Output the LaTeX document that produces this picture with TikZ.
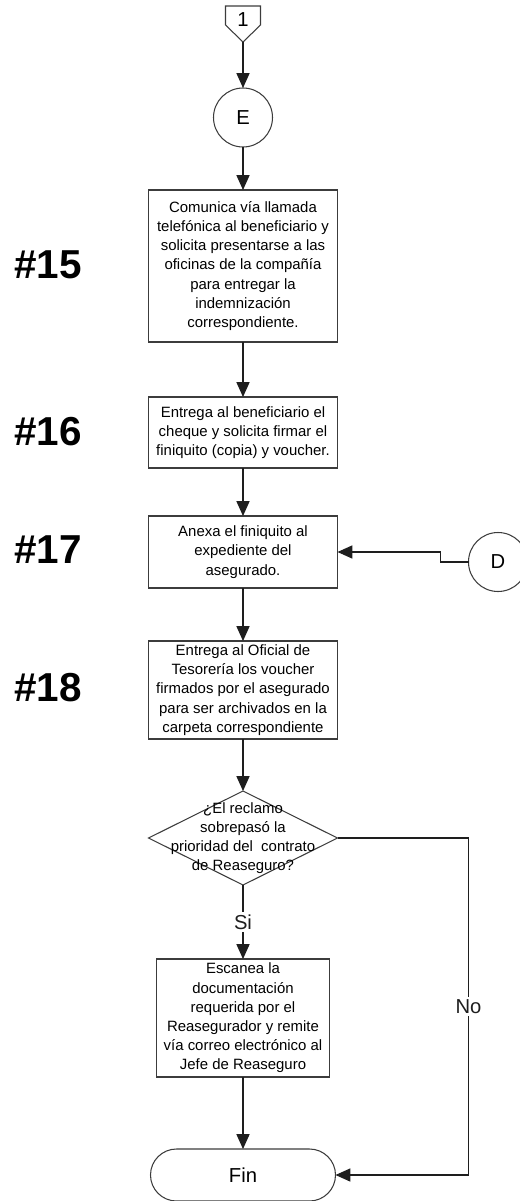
\documentclass[tikz,border=0pt]{standalone}
\usepackage{fontspec}
\setmainfont{Liberation Sans}
\usepackage{tikz}
\usetikzlibrary{shapes.geometric, arrows.meta, positioning}
\definecolor{mydark}{RGB}{30,30,30}
\definecolor{myframe}{RGB}{60,60,60}
\tikzset{
  block/.style={rectangle, draw=myframe, fill=white, align=center,
    minimum width=3.78cm, inner sep=1pt, line width=0.6pt,
    font=\fontsize{8.5}{10.9}\selectfont},
  conn/.style={circle, draw=myframe, minimum size=1.18cm, inner sep=0pt,
    line width=0.6pt, font=\fontsize{11.5}{13}\selectfont},
  arrow/.style={-{Triangle[length=8.5pt, width=7.5pt]}, line width=0.6pt, color=mydark},
  line/.style={line width=0.6pt, color=mydark},
  steplbl/.style={font=\fontsize{23}{26}\selectfont\bfseries},
  answer/.style={fill=white, inner sep=1.5pt, font=\fontsize{11.5}{13}\selectfont}
}

\begin{document}
\begin{tikzpicture}[every node/.append style={outer sep=0pt}]
  \useasboundingbox (0,0) rectangle (10.38,-24.02);

  % Off-page connector
  \node[font=\fontsize{11.5}{13}\selectfont] (p1) at (4.86,-0.39) {1};
  \draw[line, draw=myframe] (4.51,-0.12) -- (5.21,-0.12) -- (5.21,-0.5)
    -- (4.86,-0.84) -- (4.51,-0.5) -- cycle;
  \coordinate (p1tip) at (4.86,-0.84);

  % Main column
  \node[conn, below=0.92cm of p1tip] (cE) {E};
  \node[block, below=0.86cm of cE, minimum height=3.04cm] (b15)
    {Comunica vía llamada\\telefónica al beneficiario y\\solicita presentarse a las\\oficinas de la compañía\\para entregar la\\indemnización\\correspondiente.};
  \node[block, below=1.10cm of b15, minimum height=1.42cm] (b16)
    {Entrega al beneficiario el\\cheque y solicita firmar el\\finiquito (copia) y voucher.};
  \node[block, below=0.96cm of b16, minimum height=1.44cm] (b17)
    {Anexa el finiquito al\\expediente del\\asegurado.};
  \node[block, below=1.06cm of b17, minimum height=1.96cm] (b18)
    {Entrega al Oficial de\\Tesorería los voucher\\firmados por el asegurado\\para ser archivados en la\\carpeta correspondiente};
  \node[diamond, draw=myframe, line width=0.6pt, minimum width=3.78cm,
    minimum height=1.88cm, inner sep=0pt, below=1.04cm of b18] (dec) {};
  \node[align=center, font=\fontsize{8.5}{10.9}\selectfont] (dectxt) at (dec)
    {¿El reclamo\\sobrepasó la\\prioridad del\ \ contrato\\de Reaseguro?};
  \node[block, below=1.48cm of dec, minimum width=3.46cm, minimum height=2.36cm] (b19)
    {Escanea la\\documentación\\requerida por el\\Reasegurador y remite\\vía correo electrónico al\\Jefe de Reaseguro};
  \node[rectangle, rounded corners=0.52cm, draw=myframe, line width=0.6pt,
    minimum width=3.7cm, minimum height=1.04cm, below=1.44cm of b19,
    font=\fontsize{11.5}{13}\selectfont] (fin) {Fin};

  % Side connector
  \node[conn] (cD) at (9.96,-11.24) {D};

  % Step numbers
  \node[steplbl] (n15) at (0.96,-5.29) {\#15};
  \node[steplbl] (n16) at (0.96,-8.64) {\#16};
  \node[steplbl] (n17) at (0.96,-11.0) {\#17};
  \node[steplbl] (n18) at (0.96,-13.76) {\#18};

  % Flow
  \draw[arrow] (p1tip) -- (cE);
  \draw[arrow] (cE) -- (b15);
  \draw[arrow] (b15) -- (b16);
  \draw[arrow] (b16) -- (b17);
  \draw[arrow] (b17) -- (b18);
  \draw[arrow] (b18) -- (dec);
  \draw[arrow] (cD.west) -- ++(-0.56,0) |- (b17.east);
  \draw[arrow] (dec) -- node[answer] {Si} (b19);
  \draw[arrow] (b19) -- (fin);
  \draw[arrow] (dec.east) -- ++(2.62,0) |- node[answer, pos=0.25] {No} (fin.east);
\end{tikzpicture}
\end{document}
